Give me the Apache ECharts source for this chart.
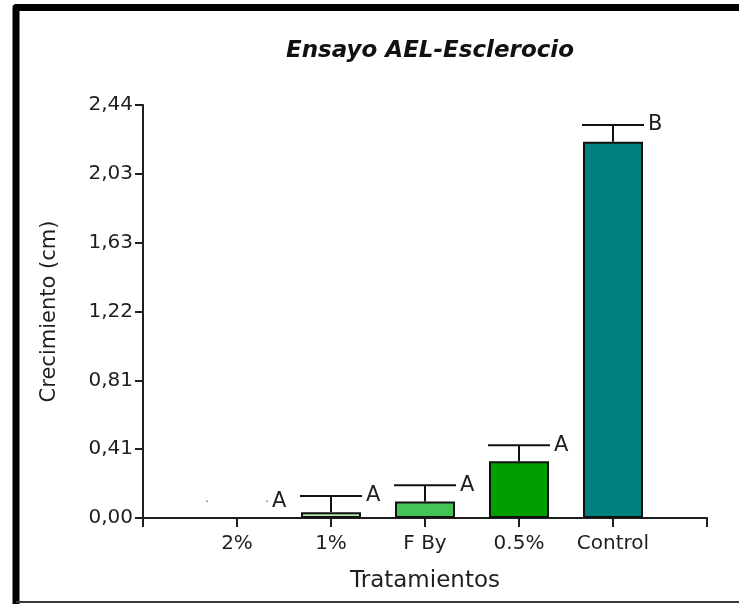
<!DOCTYPE html>
<html>
<head>
<meta charset="utf-8">
<title>Ensayo AEL-Esclerocio</title>
<script src="https://cdn.jsdelivr.net/npm/echarts@6/dist/echarts.min.js"></script>
<style>
  html, body { margin: 0; padding: 0; background: #ffffff; }
  #chart { width: 739px; height: 604px; }
</style>
</head>
<body>
<div id="chart"></div>
<script>
// Treatments and mean growth (cm) with error bars and significance letters
const categories = ['2%', '1%', 'F By', '0.5%', 'Control'];
const means = [0, 0.034, 0.097, 0.335, 2.223];
const errors = [0.099, 0.096, 0.097, 0.095, 0.099];
const letters = ['A', 'A', 'A', 'A', 'B'];
const barColors = ['#ffffff', '#ade5ad', '#44c454', '#009f00', '#007f7f'];

const yMax = 2.44;
const FONT = 'DejaVu Sans, Arial, sans-serif';
const INK = '#1e1e1e';

// padded axis slots so the five treatments sit one unit apart inside the frame
const axisSlots = [''].concat(categories, ['']);

const chart = echarts.init(document.getElementById('chart'), null, { renderer: 'canvas' });

const option = {
  animation: false,
  backgroundColor: '#ffffff',
  grid: { left: 143, right: 32, top: 105, bottom: 86, containLabel: false },
  xAxis: {
    type: 'category',
    data: axisSlots,
    boundaryGap: false,
    name: 'Tratamientos',
    nameLocation: 'middle',
    nameGap: 52,
    nameTextStyle: { fontFamily: FONT, fontSize: 23, color: INK },
    axisLine: { lineStyle: { color: INK, width: 2 } },
    axisTick: { show: true, interval: 0, length: 9, lineStyle: { color: INK, width: 2 } },
    axisLabel: { interval: 0, margin: 16, fontFamily: FONT, fontSize: 20, color: INK },
    splitLine: { show: false }
  },
  yAxis: {
    type: 'value',
    min: 0,
    max: yMax,
    interval: yMax / 6,
    name: 'Crecimiento (cm)',
    nameLocation: 'middle',
    nameGap: 83,
    nameTextStyle: { fontFamily: FONT, fontSize: 21, color: INK },
    axisLine: { show: true, lineStyle: { color: INK, width: 2 } },
    axisTick: { show: true, length: 8, lineStyle: { color: INK, width: 2 } },
    axisLabel: {
      margin: 10,
      fontFamily: FONT,
      fontSize: 20,
      color: INK,
      formatter: v => v.toFixed(2).replace('.', ',')
    },
    splitLine: { show: false }
  },
  series: [
    {
      type: 'bar',
      barWidth: 60,
      data: categories.map((c, i) => ({
        value: [c, means[i]],
        itemStyle: {
          color: barColors[i],
          borderColor: '#111111',
          borderWidth: means[i] > 0 ? 2 : 0
        }
      })),
      z: 2
    },
    {
      type: 'custom',
      z: 3,
      data: categories.map((c, i) => [c, means[i], errors[i], letters[i]]),
      renderItem: function (params, api) {
        const base = api.coord([api.value(0), api.value(1)]);
        const top = api.coord([api.value(0), api.value(1) + api.value(2)]);
        const half = 31;
        const letter = api.value(3);
        const children = [];
        if (api.value(1) > 0) {
          children.push({
            type: 'line',
            shape: { x1: base[0], y1: base[1], x2: top[0], y2: top[1] },
            style: { stroke: '#111111', lineWidth: 2 }
          });
          children.push({
            type: 'line',
            shape: { x1: top[0] - half, y1: top[1], x2: top[0] + half, y2: top[1] },
            style: { stroke: '#111111', lineWidth: 2 }
          });
        } else {
          // an empty bar leaves only the faint ends of its cap
          [-half + 1, half - 1].forEach(dx => {
            children.push({
              type: 'circle',
              shape: { cx: top[0] + dx, cy: top[1], r: 1 },
              style: { fill: '#9a9a9a' }
            });
          });
        }
        children.push({
          type: 'text',
          x: top[0] + half + 4,
          y: top[1],
          style: {
            text: letter,
            fontFamily: FONT,
            fontSize: 21,
            fill: INK,
            align: 'left',
            verticalAlign: 'middle'
          }
        });
        return { type: 'group', children: children };
      }
    }
  ],
  graphic: [
    {
      type: 'text',
      x: 430,
      y: 51,
      style: {
        text: 'Ensayo AEL-Esclerocio',
        fontFamily: FONT,
        fontSize: 23,
        fontWeight: 'bold',
        fontStyle: 'italic',
        fill: '#111111',
        align: 'center',
        verticalAlign: 'middle'
      }
    },
    {
      type: 'polyline',
      shape: { points: [[16, 610], [16, 7.5], [745, 7.5]] },
      style: { stroke: '#000000', lineWidth: 7, fill: null, lineJoin: 'round' }
    },
    {
      type: 'line',
      shape: { x1: 16, y1: 602, x2: 739, y2: 602 },
      style: { stroke: '#3a3a3a', lineWidth: 2 }
    }
  ]
};

chart.setOption(option);
</script>
</body>
</html>
